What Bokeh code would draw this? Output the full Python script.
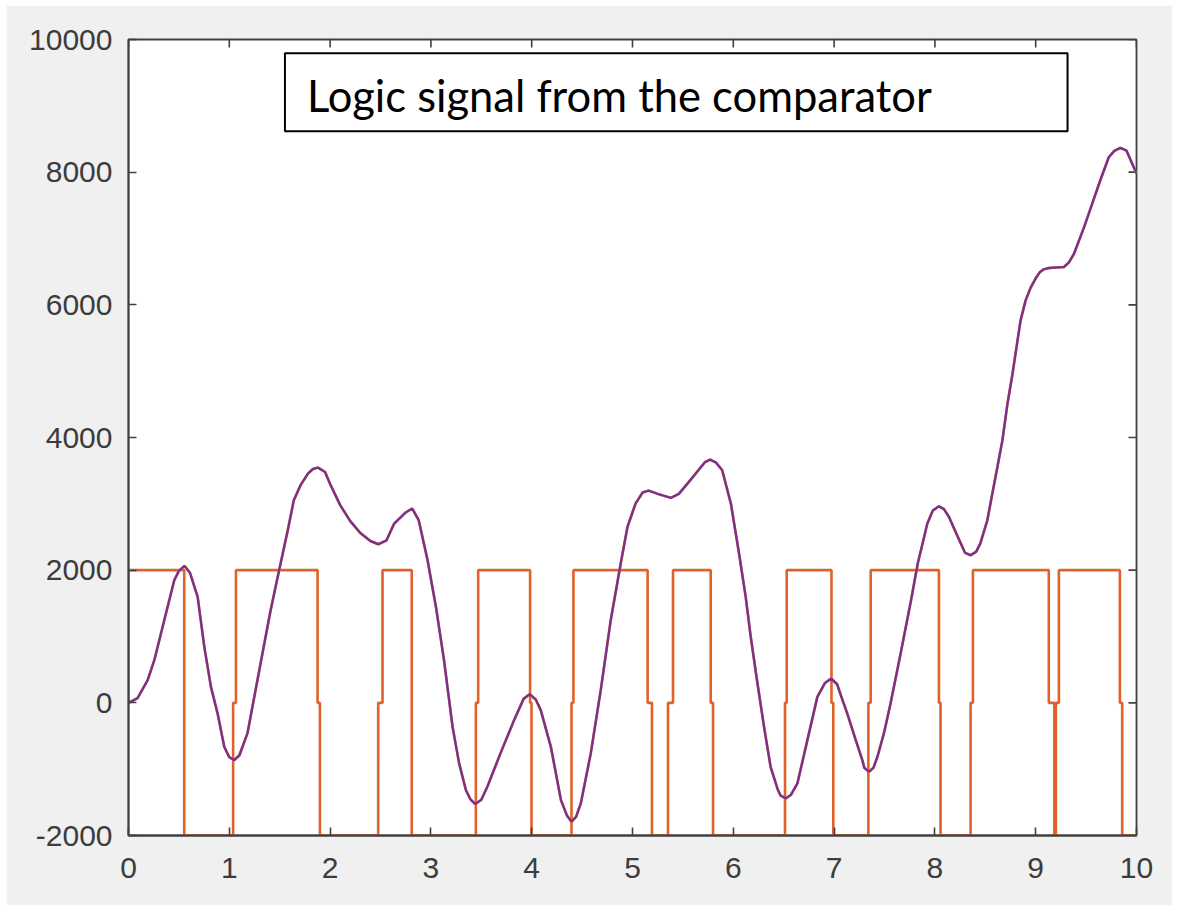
import math
from bokeh.plotting import figure
from bokeh.models import LinearAxis, Range1d, FixedTicker, BoxAnnotation, Label
from bokeh.embed import file_html
from bokeh.resources import INLINE

# ---- data ----
x_ticks = [0, 1, 2, 3, 4, 5, 6, 7, 8, 9, 10]
y_ticks = [-2000, 0, 2000, 4000, 6000, 8000, 10000]
y_tick_labels = {-2000: "-2000", 0: "0", 2000: "2000", 4000: "4000",
                 6000: "6000", 8000: "8000", 10000: "10000"}

# smooth signal (purple)
sig_t = [0, 0.09, 0.19, 0.256, 0.355, 0.454, 0.50, 0.556, 0.61, 0.686, 0.752, 0.818, 0.884,
         0.95, 1.0, 1.05, 1.10, 1.18, 1.31, 1.41, 1.48, 1.58, 1.64, 1.71, 1.78, 1.83, 1.88,
         1.95, 2.0, 2.1, 2.2, 2.3, 2.40, 2.48, 2.56, 2.636, 2.75, 2.815, 2.88, 2.967, 3.05,
         3.13, 3.215, 3.28, 3.347, 3.39, 3.44, 3.50, 3.56, 3.69, 3.825, 3.92, 3.98, 4.04,
         4.09, 4.19, 4.29, 4.35, 4.395, 4.44, 4.487, 4.586, 4.685, 4.784, 4.883, 4.95, 5.03,
         5.10, 5.16, 5.25, 5.38, 5.46, 5.545, 5.65, 5.72, 5.77, 5.83, 5.89, 5.976, 6.057,
         6.123, 6.173, 6.24, 6.305, 6.37, 6.443, 6.47, 6.52, 6.57, 6.636, 6.735, 6.834,
         6.91, 6.97, 7.03, 7.07, 7.13, 7.215, 7.28, 7.30, 7.346, 7.39, 7.43, 7.494, 7.56,
         7.66, 7.76, 7.83, 7.925, 7.98, 8.04, 8.09, 8.14, 8.22, 8.30, 8.355, 8.41, 8.45,
         8.52, 8.57, 8.62, 8.67, 8.72, 8.77, 8.80, 8.85, 8.90, 8.95, 9.0, 9.04, 9.08, 9.13,
         9.28, 9.33, 9.38, 9.48, 9.56, 9.64, 9.725, 9.78, 9.84, 9.90, 10.0]
sig_v = [0, 70, 342, 643, 1246, 1848, 1990, 2064, 1960, 1597, 844, 241, -160,
         -663, -820, -863, -790, -461, 593, 1397, 1898, 2602, 3054, 3290, 3456, 3525, 3546,
         3480, 3300, 2980, 2740, 2560, 2440, 2391, 2450, 2703, 2870, 2929, 2750, 2150, 1446,
         643, -362, -913, -1315, -1450, -1526, -1460, -1265, -762, -261, 60, 131, 50,
         -110, -663, -1466, -1700, -1792, -1720, -1516, -762, 191, 1246, 2100, 2651, 3004,
         3170, 3200, 3150, 3090, 3150, 3305, 3500, 3630, 3667, 3620, 3506, 3004, 2251,
         1597, 994, 292, -362, -964, -1315, -1400, -1441, -1390, -1214, -562, 90,
         300, 367, 280, 100, -160, -562, -863, -980, -1039, -980, -813, -461, -9,
         744, 1521, 2100, 2703, 2900, 2963, 2920, 2802, 2526, 2260, 2225, 2280, 2400,
         2752, 3155, 3555, 3958, 4510, 4962, 5264, 5765, 6067, 6260, 6400, 6490, 6535, 6555,
         6570, 6640, 6770, 7171, 7523, 7874, 8225, 8320, 8367, 8326, 7980]

# logic signal from the comparator (orange), value holds from each time to the next
logic_t = [0, 0, 0.553, 1.038, 1.066, 1.876, 1.899, 2.477, 2.520, 2.810, 3.446, 3.469,
           3.984, 3.998, 4.395, 4.414, 5.150, 5.193, 5.352, 5.402, 5.776, 5.799, 6.513,
           6.530, 6.974, 6.992, 7.340, 7.363, 8.040, 8.056, 8.354, 8.377, 9.130, 9.185,
           9.200, 9.230, 9.835, 9.858, 10.0]
logic_v = [0, 2000, -2000, 0, 2000, 0, -2000, 0, 2000, -2000, 0, 2000,
           0, -2000, 0, 2000, 0, -2000, 0, 2000, 0, -2000, 0,
           2000, 0, -2000, 0, 2000, 0, -2000, 0, 2000, 0, -2000,
           0, 2000, 0, -2000, -2000]

annotation_text = "Logic signal from the comparator"

# ---- figure ----
p = figure(frame_width=1008, frame_height=796,
           min_border_left=122, min_border_right=36, min_border_top=34, min_border_bottom=70,
           x_range=Range1d(0, 10), y_range=Range1d(-2000, 10000),
           output_backend="svg", toolbar_location=None,
           background_fill_color="white", border_fill_color="#f0f0f0",
           x_axis_location=None, y_axis_location=None,
           margin=(5, 0, 0, 6))
p.grid.visible = False
axis_color = "#404040"
label_color = "#3c3c3c"
font = "Liberation Sans"
p.outline_line_color = axis_color
p.outline_line_width = 1.8
p.outline_line_alpha = 1.0


def style_axis(ax, standoff):
    ax.axis_line_color = axis_color
    ax.axis_line_width = 1.8
    ax.major_tick_line_color = axis_color
    ax.major_tick_line_width = 1.6
    ax.major_tick_in = 8
    ax.major_tick_out = 0
    ax.minor_tick_line_color = None
    ax.major_label_text_font = font
    ax.major_label_text_color = label_color
    ax.major_label_text_font_size = "30px"
    ax.major_label_standoff = standoff


xb = LinearAxis(ticker=FixedTicker(ticks=x_ticks))
yl = LinearAxis(ticker=FixedTicker(ticks=y_ticks), major_label_overrides=y_tick_labels)
style_axis(xb, 22)
style_axis(yl, 16)
p.add_layout(xb, "below")
p.add_layout(yl, "left")

# mirrored inward ticks on the top and right edges of the box
p.ray(x=x_ticks, y=[10000] * len(x_ticks), length=8, length_units="screen",
      angle=-math.pi / 2, line_color=axis_color, line_width=1.6)
p.ray(x=[10] * len(y_ticks), y=y_ticks, length=8, length_units="screen",
      angle=math.pi, line_color=axis_color, line_width=1.6)

p.step(x=logic_t, y=logic_v, mode="after", line_color="#E0622A", line_width=2.6)
p.line(x=sig_t, y=sig_v, line_color="#EDB120", line_width=2.6)
p.line(x=sig_t, y=sig_v, line_color="#7E2F8E", line_width=2.5)

box = BoxAnnotation(left=1.552, right=9.316, top=9792, bottom=8617,
                    fill_color="white", fill_alpha=1.0,
                    line_color="black", line_alpha=1.0, line_width=2)
p.add_layout(box)
lab = Label(x=1.77, y=9170, text=annotation_text, text_font="Lato",
            text_font_size="43.5px", text_color="black", text_baseline="alphabetic")
p.add_layout(lab)

open("out.html", "w").write(file_html(p, INLINE))
